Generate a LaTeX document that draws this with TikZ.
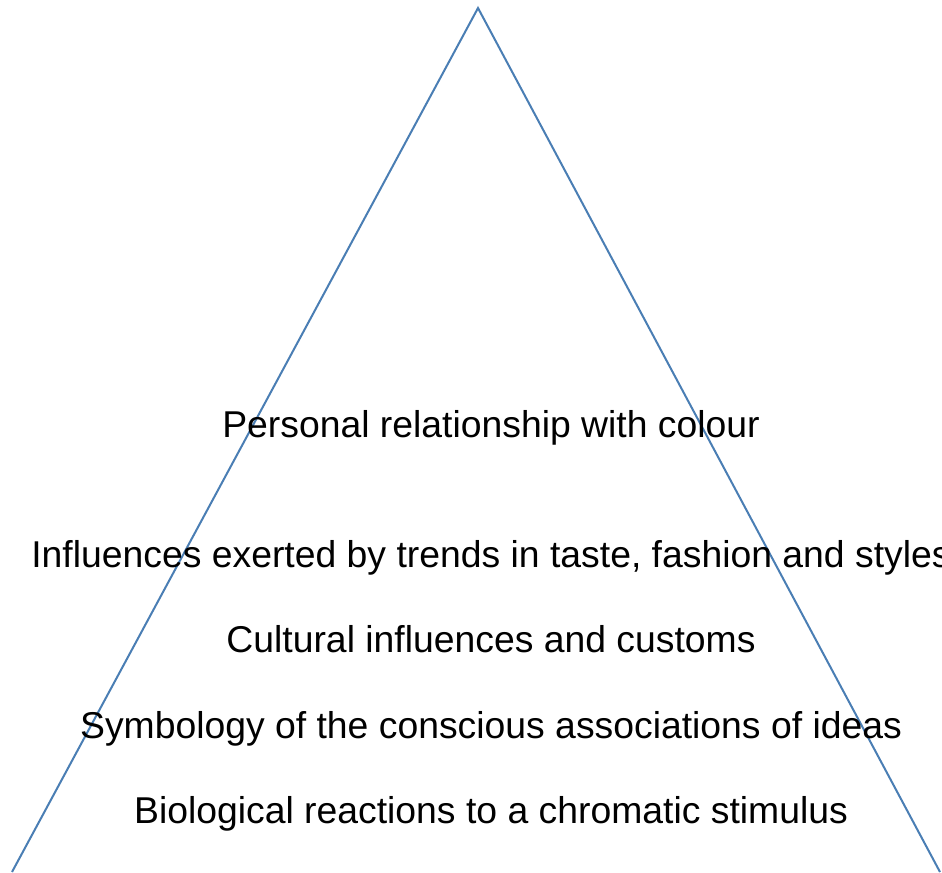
\documentclass[tikz,border=0pt]{standalone}
\usepackage{fontspec}
\setmainfont{Liberation Sans}
\definecolor{tri}{RGB}{74,126,180}
\begin{document}
\begin{tikzpicture}[x=0.75pt,y=-0.75pt,
  lbl/.style={anchor=base,inner sep=0pt,font=\fontsize{28}{34}\selectfont,text=black},
  edge/.style={draw=tri,line width=1.5pt,line join=miter}]
\useasboundingbox (0,0) rectangle (942,872);
\clip (0,0) rectangle (942,872);
\fill[white] (0,0) rectangle (942,872);
\coordinate (apex) at (478,8);
\coordinate (bl) at (12,872);
\coordinate (br) at (940,872);
\draw[edge] (bl) -- (apex) -- (br);
\node[lbl] (personal) at (491,437) {Personal relationship with colour};
\node[lbl] (influences) at (491,567) {Influences exerted by trends in taste, fashion and styles};
\node[lbl] (cultural) at (491,652) {Cultural influences and customs};
\node[lbl] (symbology) at (491,738) {Symbology of the conscious associations of ideas};
\node[lbl] (biological) at (491,823) {Biological reactions to a chromatic stimulus};
\end{tikzpicture}
\end{document}
